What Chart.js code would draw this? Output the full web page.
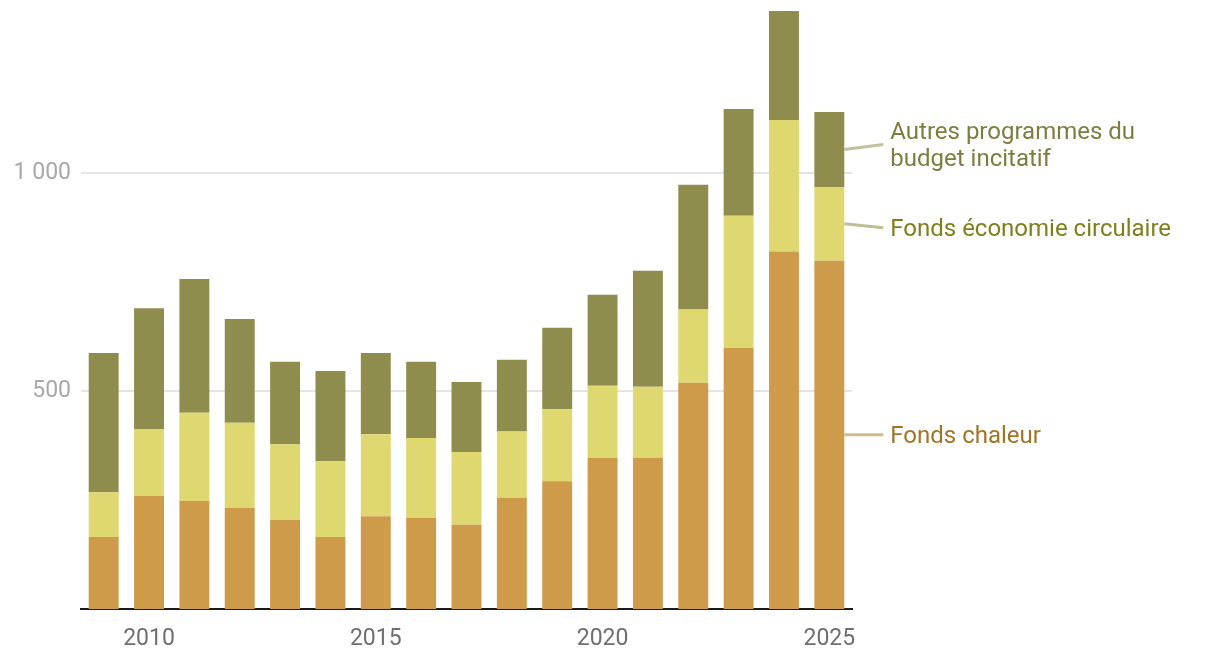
<!DOCTYPE html>
<html lang="fr">
<head>
    <meta charset="UTF-8">
    <title>Budget incitatif</title>
    <script src="https://cdn.jsdelivr.net/npm/chart.js"></script>
    <style>
        body {
            margin: 0;
            background: #ffffff;
        }
        #wrap {
            position: relative;
            width: 1220px;
            height: 666px;
        }
    </style>
</head>
<body>
    <div id="wrap">
        <canvas id="budgetChart"></canvas>
    </div>

    <script>
        // données (valeurs approximatives)
        const annees = ['2009', '2010', '2011', '2012', '2013', '2014', '2015', '2016', '2017',
                        '2018', '2019', '2020', '2021', '2022', '2023', '2024', '2025'];
        const fondsChaleur = [165, 259, 248, 232, 204, 165, 213, 209, 193, 255, 293, 347, 347, 519, 599, 820, 799];
        const fondsEco = [103, 154, 202, 195, 174, 174, 188, 183, 167, 152, 165, 165, 163, 168, 303, 302, 169];
        const autresProg = [319, 277, 307, 238, 189, 207, 186, 175, 161, 165, 187, 209, 266, 286, 245, 250, 172];
        const xTicks = ['2010', '2015', '2020', '2025'];
        const yTicks = [500, 1000];

        const noms = [['Fonds chaleur'], ['Fonds économie circulaire'], ['Autres programmes du', 'budget incitatif']];
        const couleurs = ['#ce9b4b', '#dfd76f', '#8f8d4e'];
        const couleursTexte = ['#a07525', '#7f7f1c', '#7f7d3e'];
        const couleursTrait = ['#d4bb8c', '#bfbf95', '#c3c2a0'];
        const decalage = [0, 4, -5];

        // étiquettes à droite reliées à la dernière barre
        const etiquettes = {
            id: 'etiquettes',
            afterDatasetsDraw(chart) {
                const ctx = chart.ctx;
                ctx.save();
                ctx.font = '24px Roboto';
                ctx.textBaseline = 'middle';
                ctx.textAlign = 'left';
                chart.data.datasets.forEach((ds, i) => {
                    const meta = chart.getDatasetMeta(i);
                    const el = meta.data[meta.data.length - 1];
                    const mid = (el.y + el.base) / 2;
                    const x0 = el.x + el.width / 2;
                    const ty = mid + decalage[i];
                    ctx.strokeStyle = couleursTrait[i];
                    ctx.lineWidth = 3;
                    ctx.beginPath();
                    ctx.moveTo(x0, mid);
                    ctx.lineTo(x0 + 39, ty);
                    ctx.stroke();
                    ctx.fillStyle = couleursTexte[i];
                    const lignes = noms[i];
                    lignes.forEach((t, k) => {
                        ctx.fillText(t, x0 + 46, ty + 2 + (k - (lignes.length - 1) / 2) * 27);
                    });
                });
                ctx.restore();
            }
        };

        const budgetChart = new Chart(document.getElementById('budgetChart'), {
            type: 'bar',
            data: {
                labels: annees,
                datasets: [
                    { label: noms[0].join(' '), data: fondsChaleur, backgroundColor: couleurs[0] },
                    { label: noms[1].join(' '), data: fondsEco, backgroundColor: couleurs[1] },
                    { label: noms[2].join(' '), data: autresProg, backgroundColor: couleurs[2] }
                ]
            },
            options: {
                responsive: true,
                maintainAspectRatio: false,
                animation: false,
                barPercentage: 0.66,
                categoryPercentage: 1,
                layout: { padding: { top: 0, right: 368, left: 0, bottom: 0 } },
                plugins: {
                    legend: { display: false },
                    tooltip: { enabled: false }
                },
                scales: {
                    x: {
                        stacked: true,
                        grid: { display: false, drawTicks: false },
                        border: { display: true, color: '#1a1a1a', width: 2 },
                        ticks: {
                            autoSkip: false,
                            maxRotation: 0,
                            padding: 16,
                            color: '#6f6f6f',
                            font: { family: 'Roboto', size: 23 },
                            callback: function(v) {
                                const l = this.getLabelForValue(v);
                                return xTicks.includes(l) ? l : '';
                            }
                        },
                        afterFit: s => { s.height = 57; s.paddingLeft = 0; s.paddingRight = 0; }
                    },
                    y: {
                        stacked: true,
                        min: 0,
                        max: 1397,
                        grid: { color: '#e4e4e4', lineWidth: 2, drawTicks: false },
                        border: { display: false },
                        afterBuildTicks: s => { s.ticks = yTicks.map(v => ({ value: v })); },
                        ticks: {
                            padding: 10,
                            color: '#a8a8a8',
                            font: { family: 'Roboto', size: 23 },
                            callback: v => v.toLocaleString('fr-FR').replace(/\s/g, ' ')
                        },
                        afterFit: s => { s.width = 81; s.paddingTop = 0; s.paddingBottom = 0; }
                    }
                }
            },
            plugins: [etiquettes]
        });
    </script>
</body>
</html>
